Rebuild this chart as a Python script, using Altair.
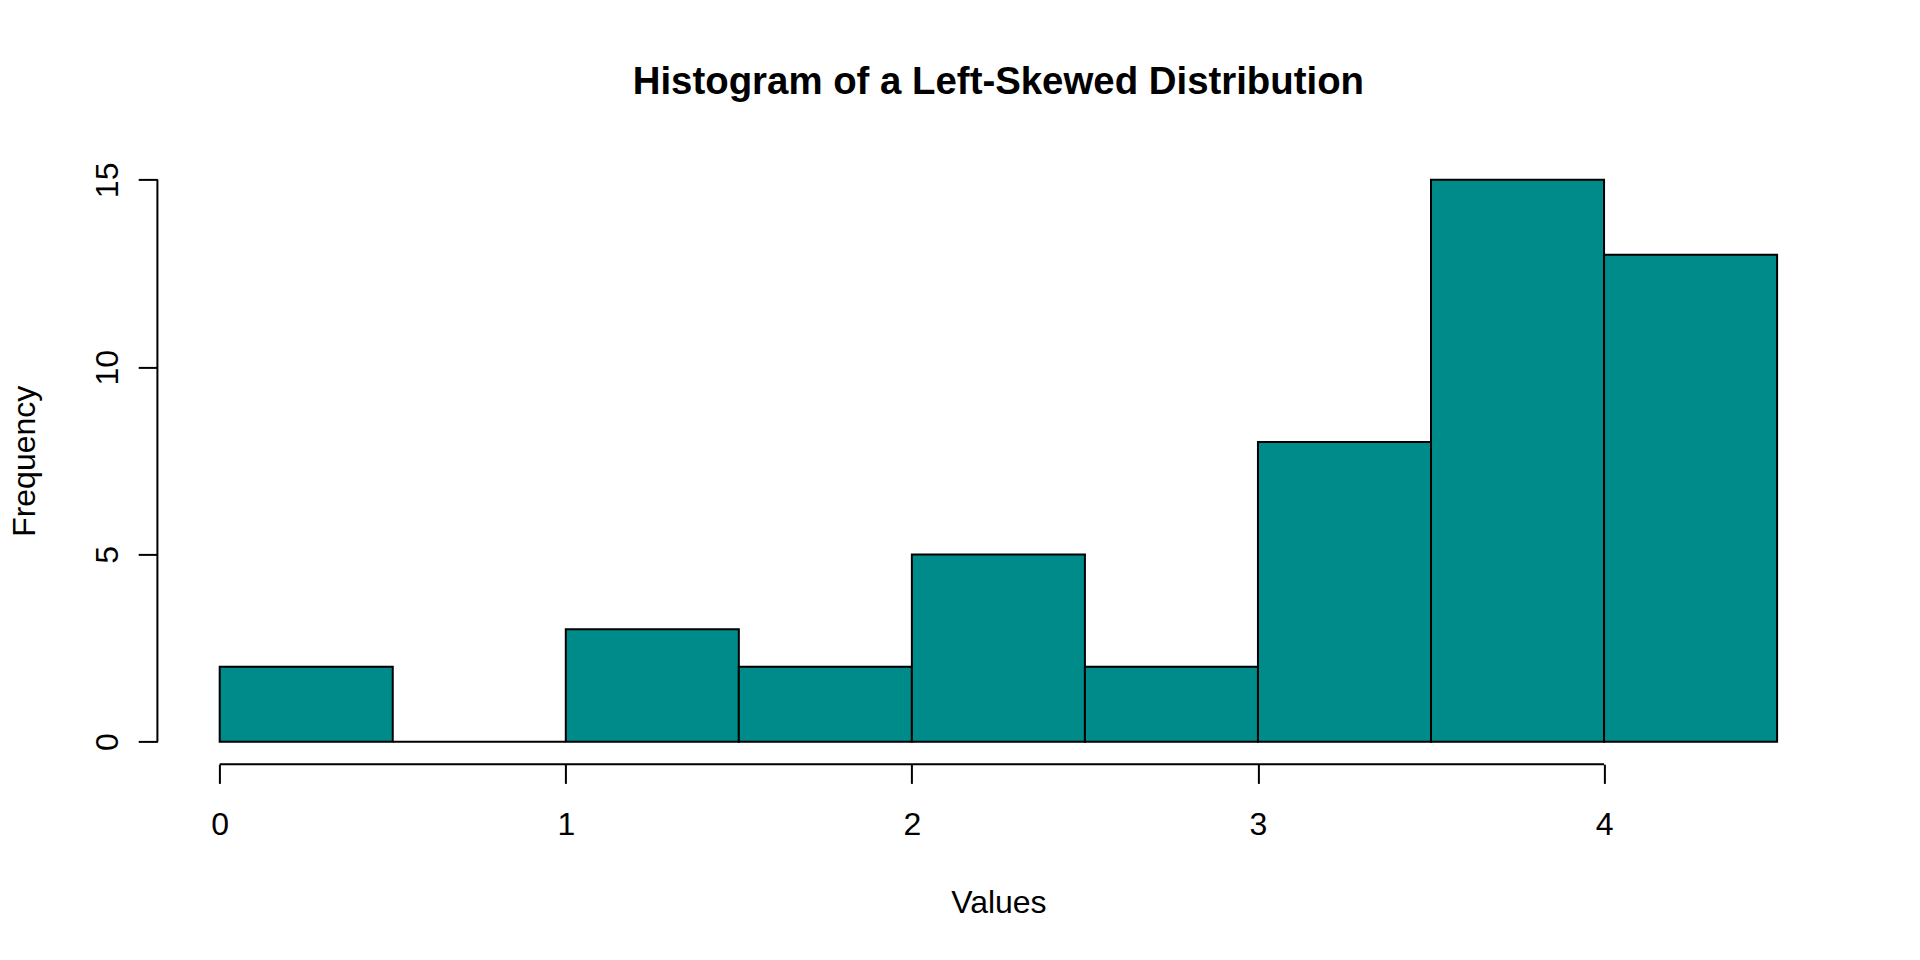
import altair as alt
import pandas as pd

bin_start = [0.0, 0.5, 1.0, 1.5, 2.0, 2.5, 3.0, 3.5, 4.0]
bin_end = [0.5, 1.0, 1.5, 2.0, 2.5, 3.0, 3.5, 4.0, 4.5]
counts = [2, 0, 3, 2, 5, 2, 8, 15, 13]

x_ticks = [0, 1, 2, 3, 4]
y_ticks = [0, 5, 10, 15]

df = pd.DataFrame({"start": bin_start, "end": bin_end, "count": counts, "zero": [0] * len(counts)})
axis_df = pd.DataFrame({"x0": [min(x_ticks)], "x1": [max(x_ticks)], "y0": [min(y_ticks)], "y1": [max(y_ticks)]})

FONT = "Liberation Sans"
W = 1682
H = 606.8

xscale = alt.Scale(domain=[-0.18, 4.68], nice=False, zero=False)
yscale = alt.Scale(domain=[-0.6, 15.6], nice=False, zero=False)

bars = alt.Chart(df).mark_rect(fill="#008B8B", stroke="black", strokeWidth=2).encode(
    x=alt.X("start:Q", scale=xscale, axis=alt.Axis(
        values=x_ticks, format="d", domain=False, grid=False, ticks=True, tickSize=19.2, tickWidth=2,
        tickColor="black", labelFont=FONT, labelFontSize=32, labelColor="black",
        labelBaseline="middle", labelPadding=41.6, labelAngle=0,
        title="Values", titleFont=FONT, titleFontSize=32, titleFontWeight="normal",
        titleColor="black", titleBaseline="middle", titleAlign="center",
        titleY=138.7, titleX=W / 2)),
    x2="end:Q",
    y=alt.Y("count:Q", scale=yscale, axis=alt.Axis(
        values=y_ticks, format="d", domain=False, grid=False, ticks=True, tickSize=19.2, tickWidth=2,
        tickColor="black", labelFont=FONT, labelFontSize=32, labelColor="black",
        labelAngle=270, labelAlign="center", labelBaseline="middle", labelPadding=31,
        title="Frequency", titleFont=FONT, titleFontSize=32, titleFontWeight="normal",
        titleColor="black", titleAngle=270, titleBaseline="middle", titleAlign="center",
        titleX=-133, titleY=H / 2)),
    y2="zero:Q",
)

xaxis_line = alt.Chart(axis_df).mark_rule(color="black", strokeWidth=2).encode(
    x=alt.X("x0:Q", scale=xscale), x2="x1:Q", y=alt.value(H)
)
yaxis_line = alt.Chart(axis_df).mark_rule(color="black", strokeWidth=2).encode(
    y=alt.Y("y0:Q", scale=yscale), y2="y1:Q", x=alt.value(0)
)

chart = alt.layer(bars, xaxis_line, yaxis_line).properties(
    width=W,
    height=H,
    autosize=alt.AutoSizeParams(type="none"),
    padding={"left": 149.4, "top": 149.4, "right": 72, "bottom": 187},
    title=alt.TitleParams(
        "Histogram of a Left-Skewed Distribution",
        font=FONT, fontSize=38.4, fontWeight="bold", color="black",
        anchor="middle", frame="group", baseline="alphabetic", offset=25,
    ),
).configure(background="white").configure_view(strokeWidth=0, stroke="transparent")

chart.save("out.html", embed_options={"renderer": "svg", "actions": False})
